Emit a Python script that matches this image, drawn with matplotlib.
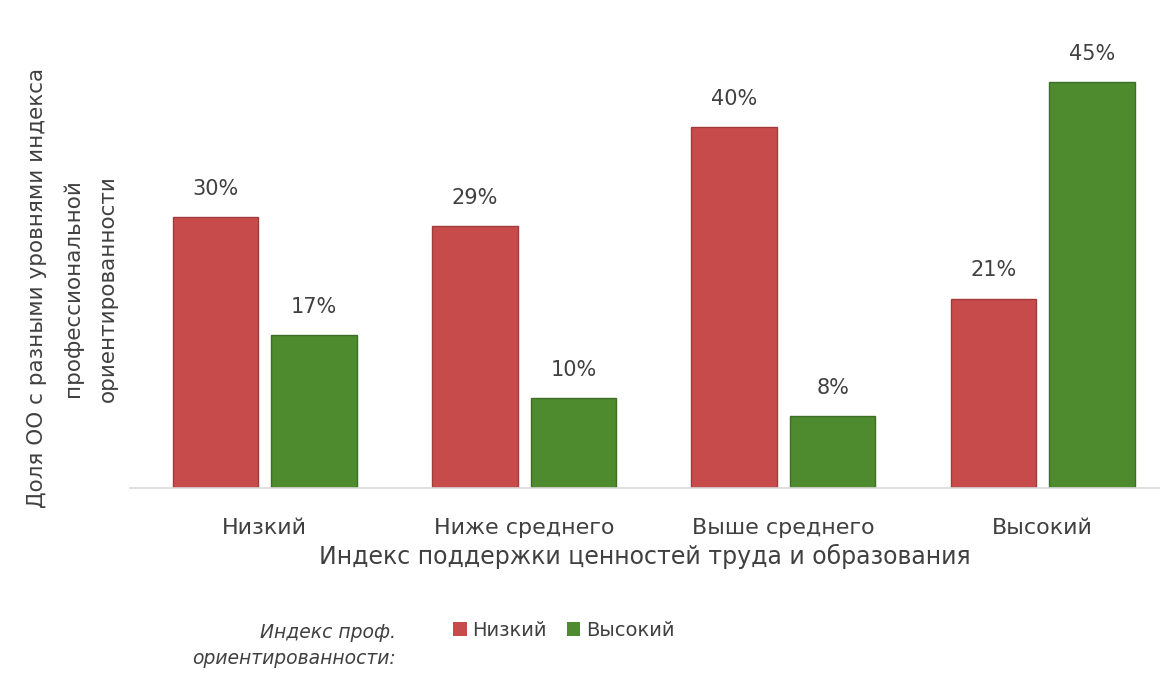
import numpy as np
import matplotlib.pyplot as plt
from matplotlib.patches import Patch

# Data
categories = ['Низкий', 'Ниже среднего', 'Выше среднего', 'Высокий']
low_values = [30, 29, 40, 21]    # Индекс проф. ориентированности: Низкий
high_values = [17, 10, 8, 45]    # Индекс проф. ориентированности: Высокий
series_names = ['Низкий', 'Высокий']

RED = '#C84B4B'
GREEN = '#4E8A2E'
TXT = '#404040'

fig = plt.figure(figsize=(11.71, 6.88), dpi=100)
ax = fig.add_axes([0.111, 0.291, 0.879, 0.655])

x = np.arange(len(categories))
width = 0.33
off = 0.19
bars_low = ax.bar(x - off, low_values, width, color=RED, edgecolor='#A03C3C', linewidth=1)
bars_high = ax.bar(x + off, high_values, width, color=GREEN, edgecolor='#3E6E26', linewidth=1)

for bars in (bars_low, bars_high):
    for b in bars:
        ax.text(b.get_x() + b.get_width() / 2, b.get_height() + 2.0, f'{int(b.get_height())}%',
                ha='center', va='bottom', fontsize=15, color=TXT)

ax.set_xlim(-0.52, 3.45)
ax.set_ylim(0, 50)
ax.set_xticks(x)
ax.set_xticklabels(categories, fontsize=16, color=TXT)
ax.tick_params(axis='x', length=0, pad=22)
ax.set_yticks([])
for s in ['top', 'right', 'left']:
    ax.spines[s].set_visible(False)
ax.spines['bottom'].set_color('#D9D9D9')
ax.spines['bottom'].set_linewidth(1.2)

ax.set_xlabel('Индекс поддержки ценностей труда и образования', fontsize=17, color=TXT, labelpad=4)

fig.text(0.062, 0.581, 'Доля ОО с разными уровнями индекса\nпрофессиональной\nориентированности',
         rotation=90, ha='center', va='center', fontsize=15.5, color=TXT, linespacing=1.95)

# legend with title on the left
fig.text(0.338, 0.062, 'Индекс проф.\nориентированности:', ha='right', va='center',
         fontsize=13.5, style='italic', color=TXT, linespacing=1.5)
handles = [Patch(facecolor=RED), Patch(facecolor=GREEN)]
fig.legend(handles, series_names, loc='center left', bbox_to_anchor=(0.372, 0.084), ncol=2,
           frameon=False, fontsize=14, handlelength=0.7, handleheight=0.7,
           handletextpad=0.3, columnspacing=1.0, labelcolor=TXT)

fig.savefig('out.png', dpi=100)
